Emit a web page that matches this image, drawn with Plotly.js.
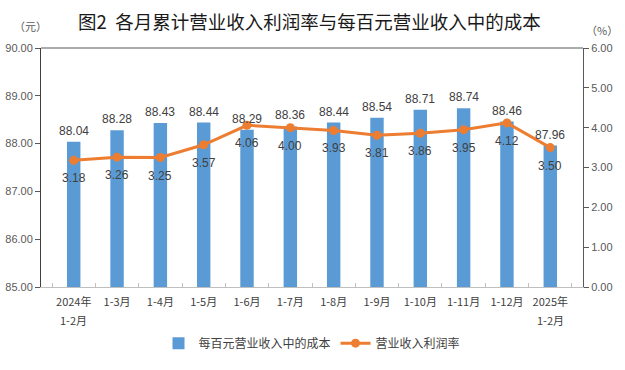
<!DOCTYPE html>
<html>
<head>
<meta charset="utf-8">
<script src="https://cdn.plot.ly/plotly-3.0.1.min.js"></script>
<style>html,body{margin:0;padding:0;background:#fff;}#chart{width:625px;height:370px;}</style>
</head>
<body>
<div id="chart"></div>
<script>
const categories = ['2024年1-2月','1-3月','1-4月','1-5月','1-6月','1-7月','1-8月','1-9月','1-10月','1-11月','1-12月','2025年1-2月'];
const costPerHundred = [88.04, 88.28, 88.43, 88.44, 88.29, 88.36, 88.44, 88.54, 88.71, 88.74, 88.46, 87.96];
const profitMargin = [3.18, 3.26, 3.25, 3.57, 4.06, 4.00, 3.93, 3.81, 3.86, 3.95, 4.12, 3.50];
const leftTicks = [85, 86, 87, 88, 89, 90];
const rightTicks = [0, 1, 2, 3, 4, 5, 6];

// tick labels: year prefix on first line, month span on second line
const tickFirst = categories.map(c => c.includes('年') ? c.split('年')[0] + '年' : c);
const tickSecond = categories.map(c => c.includes('年') ? c.split('年')[1] : '');

const FONT = '"Liberation Sans", "Noto Sans CJK SC", sans-serif';
const CJK = '"Noto Sans CJK SC", "Liberation Sans", sans-serif';

const traces = [
  {
    type: 'bar', name: '每百元营业收入中的成本',
    x: categories, y: costPerHundred,
    marker: {color: '#5B9BD5'}, width: 0.31,
    hoverinfo: 'x+y'
  },
  {
    type: 'scatter', mode: 'lines+markers', name: '营业收入利润率',
    x: categories, y: profitMargin, yaxis: 'y2',
    line: {color: '#ED7D31', width: 3},
    marker: {color: '#ED7D31', size: 9},
    cliponaxis: false
  }
];

const annotations = [];
costPerHundred.forEach((v, i) => annotations.push({
  x: categories[i], y: v, xref: 'x', yref: 'y',
  text: v.toFixed(2), showarrow: false, yshift: 11, yanchor: 'middle',
  font: {size: 12, color: '#404040', family: FONT}
}));
profitMargin.forEach((v, i) => annotations.push({
  x: categories[i], y: v, xref: 'x', yref: 'y2',
  text: v.toFixed(2), showarrow: false, yshift: -18, yanchor: 'middle',
  font: {size: 12, color: '#404040', family: FONT}
}));
tickSecond.forEach((t, i) => {
  if (t) annotations.push({
    x: categories[i], y: 0, xref: 'x', yref: 'paper',
    text: t, showarrow: false, yshift: -33, yanchor: 'middle', borderpad: 0,
    font: {size: 11, color: '#404040', family: CJK}
  });
});
annotations.push({
  xref: 'paper', yref: 'paper', x: -0.02, y: 1.09, xanchor: 'center', yanchor: 'middle',
  text: '（元）', showarrow: false, font: {size: 11, color: '#595959', family: CJK}
});
annotations.push({
  xref: 'paper', yref: 'paper', x: 1.035, y: 1.075, xanchor: 'center', yanchor: 'middle',
  text: '（%）', showarrow: false, font: {size: 11, color: '#595959', family: CJK}
});

const layout = {
  width: 625, height: 370,
  margin: {l: 41, r: 42, t: 48, b: 78},
  paper_bgcolor: '#fff', plot_bgcolor: '#fff',
  title: {
    text: '图2  各月累计营业收入利润率与每百元营业收入中的成本',
    font: {size: 18.5, color: '#1a1a1a', family: CJK},
    x: 0.495, xanchor: 'center', y: 0.94, yanchor: 'middle'
  },
  showlegend: true,
  legend: {
    orientation: 'h', x: 0.5, xanchor: 'center', y: -0.235, yanchor: 'middle',
    font: {size: 12, color: '#404040', family: CJK}, traceorder: 'normal'
  },
  xaxis: {
    type: 'category', tickson: 'boundaries', ticks: 'inside', ticklen: 4,
    tickvals: categories, ticktext: tickFirst,
    tickangle: 0, automargin: false, ticklabelstandoff: 5,
    tickcolor: '#BFBFBF', showline: true, linecolor: '#BFBFBF', linewidth: 1,
    showgrid: false, zeroline: false,
    tickfont: {size: 11, color: '#404040', family: CJK}
  },
  yaxis: {
    range: [85, 90], tickvals: leftTicks, ticktext: leftTicks.map(v => v.toFixed(2)),
    ticks: 'outside', ticklen: 5, tickcolor: '#595959', automargin: false,
    showline: true, linecolor: '#404040', linewidth: 1,
    showgrid: false, zeroline: false,
    tickfont: {size: 11, color: '#595959', family: FONT}
  },
  yaxis2: {
    range: [0, 6], tickvals: rightTicks, ticktext: rightTicks.map(v => v.toFixed(2)),
    overlaying: 'y', side: 'right', automargin: false,
    ticks: 'outside', ticklen: 5, tickcolor: '#595959',
    showline: true, linecolor: '#595959', linewidth: 1,
    showgrid: false, zeroline: false,
    tickfont: {size: 11, color: '#595959', family: FONT}
  },
  shapes: [{
    type: 'line', xref: 'paper', yref: 'paper', x0: 0, x1: 1, y0: 1, y1: 1,
    line: {color: '#595959', width: 1}
  }],
  annotations: annotations
};

Plotly.newPlot('chart', traces, layout, {displayModeBar: false, staticPlot: true});
</script>
</body>
</html>
